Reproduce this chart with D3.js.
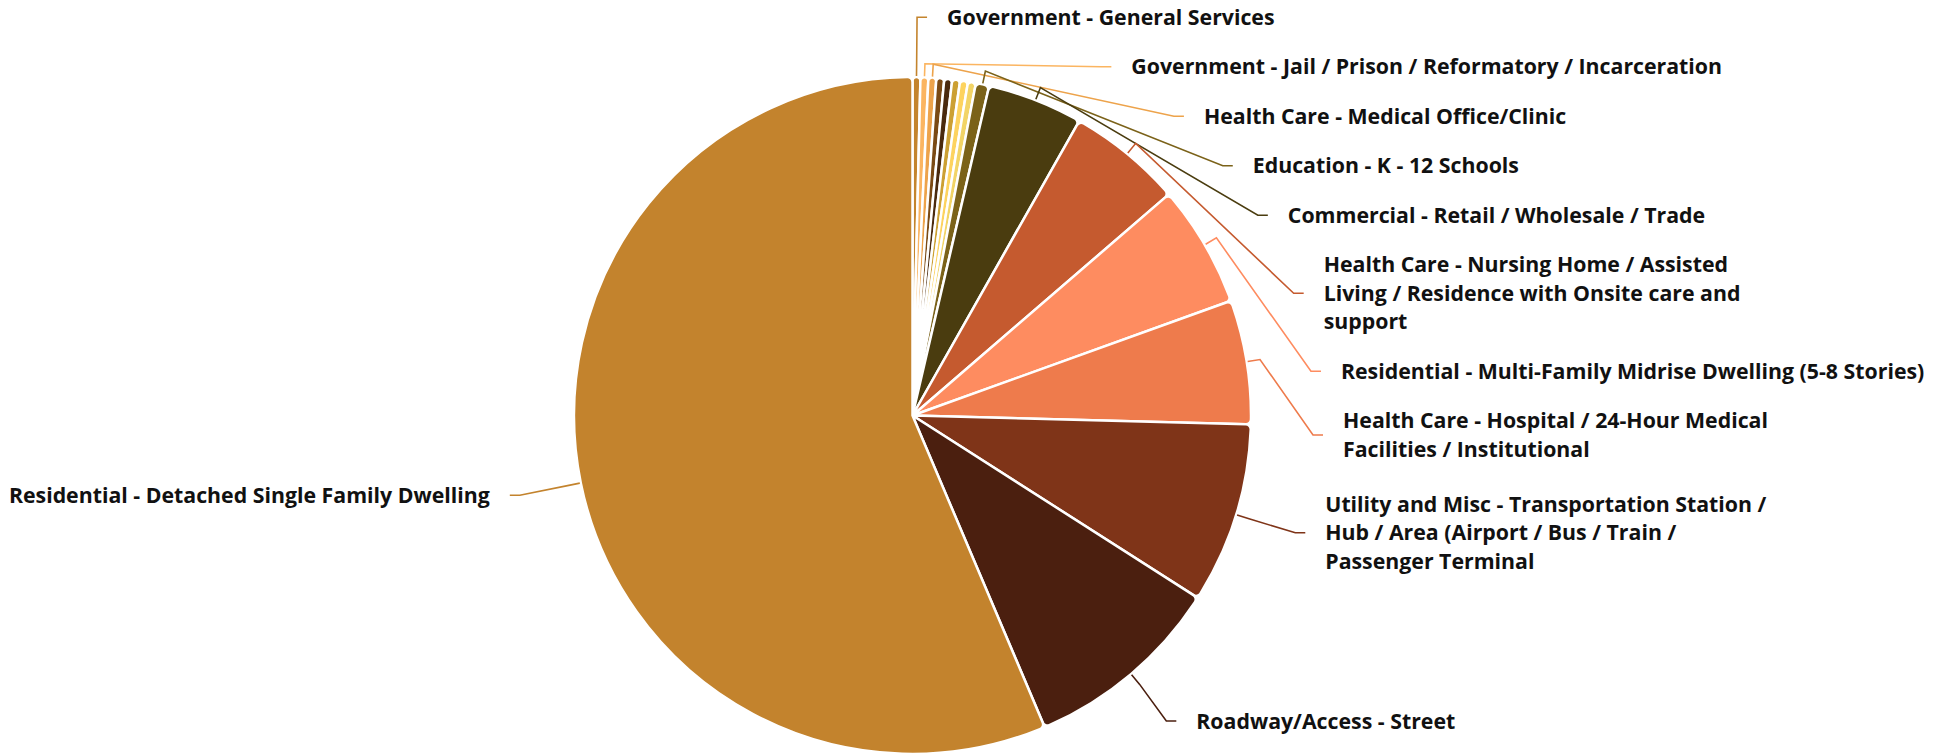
<!DOCTYPE html>
<html>
<head>
<meta charset="utf-8">
<script src="https://cdn.jsdelivr.net/npm/d3@7"></script>
<style>
  html, body { margin: 0; padding: 0; background: #ffffff; }
  svg { display: block; }
  .lbl { font-family: "Segoe UI", "Open Sans", sans-serif; font-weight: 700; font-size: 21.3px; fill: #111111; }
</style>
</head>
<body>
<svg id="chart" width="1952" height="756"></svg>
<script>
// Building-type share, drawn clockwise from 12 o'clock in ascending order.
// Slices without a name carry no label.
const categories = [
  "Government - General Services",
  "Government - Jail / Prison / Reformatory / Incarceration",
  "Health Care - Medical Office/Clinic",
  null,
  null,
  null,
  null,
  null,
  "Education - K - 12 Schools",
  "Commercial - Retail / Wholesale / Trade",
  "Health Care - Nursing Home / Assisted Living / Residence with Onsite care and support",
  "Residential - Multi-Family Midrise Dwelling (5-8 Stories)",
  "Health Care - Hospital / 24-Hour Medical Facilities / Institutional",
  "Utility and Misc - Transportation Station / Hub / Area (Airport / Bus / Train / Passenger Terminal",
  "Roadway/Access - Street",
  "Residential - Detached Single Family Dwelling"
];

// Share of total (%)
const shares = [
  0.375, 0.375, 0.375, 0.375, 0.375, 0.375, 0.375, 0.375,
  0.64, 4.56, 5.47, 5.83, 5.92, 8.64, 9.56, 56.39
];

const sliceColors = [
  "#C4842D", "#FBB561", "#EDA34B", "#7B4A14", "#4A2A0E", "#CCA033", "#FDD35F", "#F2D466",
  "#7B6219", "#4A3C0F", "#C55A2F", "#FE8C60", "#EE7B4C", "#7F3418", "#4B1F0F", "#C3832D"
];

const W = 1952, H = 756;
const cx = 912.5, cy = 415.5, R = 338.5;

const data = categories.map((c, i) => ({ name: c, value: shares[i], color: sliceColors[i] }));

const svg = d3.select("#chart");
const pie = d3.pie().sort(null).value(d => d.value);
const arcs = pie(data);

const arc = d3.arc().innerRadius(0).outerRadius(R).cornerRadius(5);

const gPie = svg.append("g").attr("transform", `translate(${cx},${cy})`);
gPie.selectAll("path.slice")
  .data(arcs)
  .join("path")
  .attr("class", "slice")
  .attr("d", arc)
  .attr("fill", d => d.data.color)
  .attr("stroke", "#ffffff")
  .attr("stroke-width", 2.5)
  .attr("stroke-linejoin", "round");

// ---- labels ----
const LINE_H = 28.5, GAP = 21, TOP = 3, BOTTOM = H - 3;
const LABEL_R = 400;                      // radius used for the preferred label height
const ANCHOR_RX = 411, ANCHOR_RY = 398.5; // ellipse on which leader lines end
const ELBOW = R + 13.5;                   // radius of the leader-line bend
const TEXT_OFF = 20, WRAP_W = 460;

// text measuring helper
const meas = svg.append("text").attr("class", "lbl").attr("x", -1000).attr("y", -1000);
function textW(s) { meas.text(s); return meas.node().getComputedTextLength(); }
function wrap(s, maxW) {
  const words = s.split(" ");
  const lines = [];
  let cur = "";
  words.forEach(w => {
    const t = cur ? cur + " " + w : w;
    if (cur && textW(t) > maxW) { lines.push(cur); cur = w; }
    else cur = t;
  });
  if (cur) lines.push(cur);
  return lines;
}

const labels = arcs.filter(a => a.data.name).map(a => {
  const mid = (a.startAngle + a.endAngle) / 2;
  return {
    a, mid,
    side: mid < Math.PI ? 1 : -1,
    lines: [a.data.name],
    yDes: cy - LABEL_R * Math.cos(mid),
    elbow: [cx + ELBOW * Math.sin(mid), cy - ELBOW * Math.cos(mid)]
  };
});

function anchorX(l) {
  const dy = (l.y - cy) / ANCHOR_RY;
  const ex = cx + l.side * ANCHOR_RX * Math.sqrt(Math.max(0, 1 - dy * dy));
  const minX = l.elbow[0] + l.side * 10;
  return l.side === 1 ? Math.max(ex, minX) : Math.min(ex, minX);
}

function layout() {
  [1, -1].forEach(side => {
    const group = labels.filter(l => l.side === side)
      .sort((p, q) => side === 1 ? p.mid - q.mid : q.mid - p.mid);
    let prevBottom = -Infinity;
    group.forEach(l => {
      const h = l.lines.length * LINE_H;
      const top = Math.max(l.yDes - h / 2, prevBottom + GAP, TOP);
      l.y = top + h / 2;
      prevBottom = top + h;
    });
    // push back up from the bottom edge if needed
    let nextTop = Infinity;
    for (let i = group.length - 1; i >= 0; i--) {
      const l = group[i];
      const h = l.lines.length * LINE_H;
      const bottom = Math.min(l.y + h / 2, nextTop - GAP, BOTTOM);
      l.y = bottom - h / 2;
      nextTop = bottom - h;
    }
    group.forEach(l => { l.ax = anchorX(l); l.tx = l.ax + l.side * TEXT_OFF; });
  });
}

layout();
labels.forEach(l => {
  const w = textW(l.a.data.name);
  const room = l.side === 1 ? W - 8 - l.tx : l.tx - 8;
  if (w > room) l.lines = wrap(l.a.data.name, WRAP_W);
});
layout();
meas.remove();

const gLbl = svg.append("g");

labels.forEach(l => {
  const p0 = [cx + (R + 1) * Math.sin(l.mid), cy - (R + 1) * Math.cos(l.mid)];
  const p1 = l.elbow;
  const p2 = [l.ax - l.side * 10, l.y];
  const p3 = [l.ax, l.y];
  gLbl.append("path")
    .attr("d", d3.line()([p0, p1, p2, p3]))
    .attr("fill", "none")
    .attr("stroke", l.a.data.color)
    .attr("stroke-width", 1.6);

  const n = l.lines.length;
  const t = gLbl.append("text")
    .attr("class", "lbl")
    .attr("text-anchor", l.side === 1 ? "start" : "end");
  l.lines.forEach((s, i) => {
    t.append("tspan")
      .attr("x", l.tx)
      .attr("y", l.y + (i - (n - 1) / 2) * LINE_H)
      .attr("dy", "0.35em")
      .text(s);
  });
});
</script>
</body>
</html>
